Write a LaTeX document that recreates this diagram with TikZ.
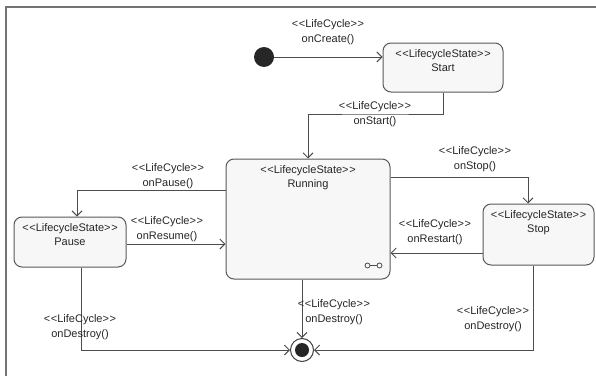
\documentclass[tikz,border=0pt]{standalone}
\usepackage{fontspec}
\setmainfont{Liberation Sans}
\usetikzlibrary{arrows.meta,positioning}

% stereotype brackets, kept apart so they never turn into guillemets
\newcommand{\stereo}[1]{<{}\kern0.6pt<{}#1>{}\kern0.6pt>{}}

\begin{document}
\begin{tikzpicture}[x=1pt, y=1pt, font=\fontsize{11}{14}\selectfont,
    state/.style={rectangle, draw=black!65, fill=black!3, rounded corners=8pt, line width=1pt, inner sep=0pt},
    stext/.style={anchor=north, yshift=-6pt, align=center, inner sep=1pt, text=black!85, font=\fontsize{11}{14}\selectfont},
    trig/.style={align=center, inner sep=1pt, text=black!85, font=\fontsize{11}{15}\selectfont},
    init/.style={circle, fill=black!85, minimum size=20pt, inner sep=0pt},
    final/.style={circle, draw=black!75, fill=white, line width=1pt, minimum size=23pt, inner sep=0pt,
        path picture={\fill[black!85] (path picture bounding box.center) circle (7pt);}},
    line/.style={draw=black!70, line width=1pt, -{Straight Barb[length=5pt,width=10pt]}}]

    \useasboundingbox (0,0) rectangle (596,376);

    % Frame
    \draw[black!55, line width=2pt] (6,0) -- (6,369) -- (596,369);

    % States
    \node [init] (init) at (264,319) {};
    \node [state, minimum width=120pt, minimum height=49pt,
        label={[stext]north:{\stereo{LifecycleState}\\Start}}] (start) at (443,308.5) {};
    \node [state, minimum width=164pt, minimum height=120pt,
        label={[stext]north:{\stereo{LifecycleState}\\Running}}] (running) at (308,157) {};
    \node [state, minimum width=112pt, minimum height=50pt,
        label={[stext]north:{\stereo{LifecycleState}\\Pause}}] (pause) at (70,134) {};
    \node [state, minimum width=111pt, minimum height=61pt,
        label={[stext]north:{\stereo{LifecycleState}\\Stop}}] (stop) at (538.5,141.5) {};
    \node [final] (final) at (302,26) {};

    % Running marker
    \draw[black!70, line width=0.8pt] ([shift={(-23pt,14pt)}]running.south east) circle (2.5pt)
        ++(2.5pt,0) -- ++(7pt,0) ++(2.5pt,0) circle (2.5pt);

    % Transitions
    \path [line] (init) -- (init -| start.west);
    \path [line] (start.south) |- (375,262) -| (running.north);
    \path [line] ([yshift=29pt]running.west) -| ([xshift=7pt]pause.north);
    \path [line] ([yshift=-2pt]pause.east) -- ([yshift=-2pt]pause.east -| running.west);
    \path [line] ([yshift=42pt]running.east) -| ([xshift=-10.5pt]stop.north);
    \path [line] ([yshift=-18.5pt]stop.west) -- ([yshift=-18.5pt]stop.west -| running.east);
    \path [line] ([xshift=-6pt]running.south) -- (final);
    \path [line] ([xshift=11pt]pause.south) |- (final);
    \path [line] ([xshift=-5.5pt]stop.south) |- (final);

    % Trigger labels
    \node [trig] (tcreate) at (328,343.5) {\stereo{LifeCycle}\\onCreate()};
    \node [trig] (tstart) at (375,261.5) {\stereo{LifeCycle}\\onStart()};
    \node [trig] (tpause) at (168,200) {\stereo{LifeCycle}\\onPause()};
    \node [trig] (tresume) at (167,147) {\stereo{LifeCycle}\\onResume()};
    \node [trig] (tstop) at (475,216.5) {\stereo{LifeCycle}\\onStop()};
    \node [trig] (trestart) at (435,144) {\stereo{LifeCycle}\\onRestart()};
    \node [trig] (tdestroyr) at (334,64) {\stereo{LifeCycle}\\onDestroy()};
    \node [trig] (tdestroyp) at (80,49) {\stereo{LifeCycle}\\onDestroy()};
    \node [trig] (tdestroys) at (493,57) {\stereo{LifeCycle}\\onDestroy()};

\end{tikzpicture}
\end{document}
